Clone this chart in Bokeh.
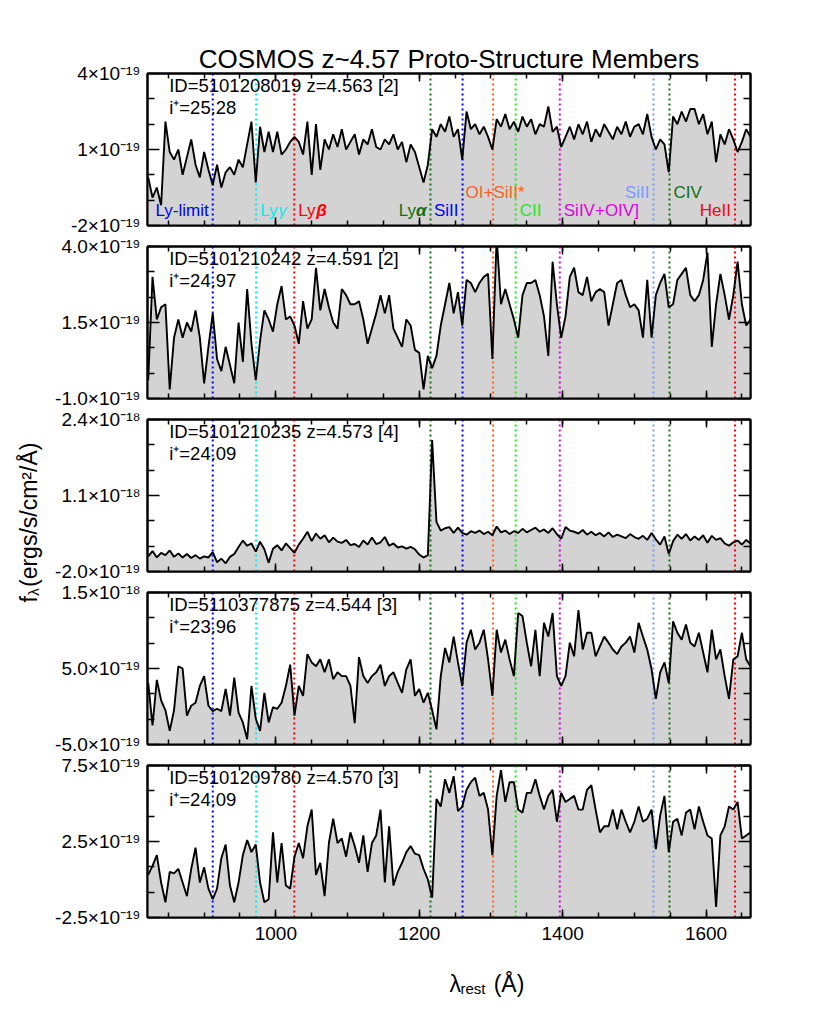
import math
from bokeh.plotting import figure
from bokeh.models import LinearAxis, FixedTicker, Range1d, ColumnDataSource, CustomJSTickFormatter
from bokeh.layouts import row, column
from bokeh.embed import file_html
from bokeh.resources import INLINE
from bokeh.core.properties import value

FONT = "Liberation Sans"

# ---------------- data ----------------
# rest-frame wavelength grid (Angstrom)
wave = [822 + 6 * k for k in range(141)]

# fluxes in units of 1e-19 erg/s/cm^2/A
flux1 = [
    -0.1, -0.9, -0.5, -1.2, 2.1, 0.9, 0.6, 1.0, 0.0, 0.7,
    1.4, 0.4, -0.1, 0.9, 0.2, -0.4, 0.4, -0.5, 0.1, 0.3,
    0.0, 0.6, 0.3, 1.2, 2.1, -0.3, 1.9, 0.9, 1.7, 0.9,
    1.7, 0.8, 1.0, 1.3, 1.5, 1.3, 0.8, 2.1, 0.0, 2.0,
    0.2, 1.4, 1.0, 1.6, 1.1, 1.8, 1.0, 1.3, 1.6, 0.8,
    1.4, 1.2, 1.8, 1.1, 1.0, 1.4, 1.2, 1.6, 1.0, 1.3,
    0.5, 1.2, 0.9, 0.3, -0.3, 0.4, 1.8, 1.5, 2.0, 1.7,
    2.3, 1.5, 1.8, 0.6, 2.5, 1.8, 2.0, 1.6, 1.9, 1.5,
    1.0, 2.2, 1.9, 2.4, 1.8, 2.1, 1.7, 2.3, 1.9, 2.2,
    1.6, 2.0, 1.9, 2.7, 1.7, 1.9, 1.1, 1.5, 1.9, 1.4,
    2.0, 1.6, 2.1, 1.3, 1.8, 1.5, 2.0, 1.7, 1.4, 1.9,
    1.6, 2.1, 1.5, 1.9, 2.0, 1.6, 2.4, 1.5, 1.0, 1.4,
    1.2, 0.1, 2.3, 2.0, 2.5, 2.1, 2.6, 2.6, 2.0, 2.4,
    1.6, 2.1, 0.5, 1.6, 1.2, 1.8, 1.4, 0.9, 1.3, 1.8,
    1.5,
]
flux2 = [
    -0.4, 3.0, 1.6, 2.0, 2.1, -0.7, 1.0, 1.6, 1.0, 1.5,
    1.2, 1.9, 1.0, -0.5, 0.7, 1.8, 0.3, -0.1, 0.7, 0.1,
    -0.5, 1.5, 0.2, 2.6, 0.8, -0.4, 0.9, 1.9, 1.6, 1.2,
    2.1, 2.7, 1.6, 1.7, 1.4, 0.8, 2.2, 1.3, 1.6, 3.3,
    1.9, 2.6, 2.0, 1.5, 1.3, 2.6, 2.4, 2.1, 2.1, 2.2,
    1.6, 0.8, 1.3, 1.8, 2.4, 1.8, 2.4, 1.3, 1.0, 0.7,
    1.6, 1.4, 0.6, 0.5, -0.7, 0.4, 0.0, 0.4, 1.4, 2.1,
    2.8, 1.8, 2.5, 1.4, 2.9, 2.8, 2.5, 2.8, 3.0, 3.1,
    0.3, 4.3, 2.1, 2.6, 2.1, 1.6, 1.0, 2.4, 2.8, 2.8,
    2.9, 2.4, 1.7, 0.4, 3.5, 2.1, 1.0, 1.7, 3.0, 3.3,
    2.5, 2.4, 3.0, 2.2, 2.5, 2.6, 2.5, 1.4, 2.1, 2.8,
    2.9, 2.4, 2.0, 2.1, 1.9, 1.0, 2.9, 1.0, 2.4, 2.8,
    3.1, 2.0, 2.1, 2.9, 3.1, 3.3, 2.4, 2.2, 2.4, 2.9,
    3.8, 0.7, 2.1, 3.1, 2.4, 1.6, 2.4, 3.5, 2.1, 1.4,
    1.6,
]
flux3 = [
    0.6, 1.5, 0.4, 1.2, 0.8, 1.6, 0.5, 1.1, 0.4, 1.0,
    0.3, 0.8, 0.2, 0.6, 0.4, 1.3, -0.4, 0.2, -0.6, 0.5,
    1.0, 2.2, 3.3, 2.4, 2.8, 1.4, 3.1, 1.8, -0.5, 1.9,
    2.5, 1.6, 2.8, 2.0, 1.2, 2.6, 3.6, 4.8, 3.2, 4.5,
    3.6, 4.2, 3.0, 3.8, 3.1, 2.9, 3.4, 2.5, 2.7, 2.2,
    3.3, 2.6, 3.8, 2.7, 3.0, 3.9, 2.4, 2.8, 2.1, 2.3,
    1.9, 2.2, 1.8, 0.9, 0.4, 0.8, 20.5, 6.5, 5.0, 5.4,
    5.6, 4.6, 5.5, 4.6, 4.3, 4.9, 4.6, 5.0, 4.4, 4.8,
    4.2, 5.7, 4.7, 5.0, 4.4, 4.9, 4.6, 5.3, 4.7, 5.1,
    5.5, 4.8, 5.2, 4.6, 5.4, 4.4, 3.6, 5.6, 5.0, 4.8,
    4.5, 5.1, 4.3, 4.8, 4.2, 4.6, 4.0, 4.7, 3.9, 4.3,
    4.0, 3.7, 4.4, 3.9, 3.6, 4.1, 3.4, 4.6, 3.5, 2.6,
    4.0, 1.0, 3.2, 4.3, 3.6, 4.4, 3.3, 4.0, 3.4, 4.2,
    2.9, 4.1, 3.4, 3.7, 2.8, 2.4, 3.0, 3.3, 2.6, 3.4,
    2.8,
]
flux4 = [
    3.1, -2.5, 3.5, 0.8, -0.5, -3.2, -0.5, 5.3, 5.0, -1.2,
    0.1, 0.5, 2.7, 4.0, 0.1, -0.6, -0.3, -0.6, 2.3, -1.2,
    3.8, -0.8, -2.1, -4.3, 2.7, -1.6, -3.2, 1.8, -2.1, -0.1,
    -0.3, 0.5, 2.7, 5.5, -1.2, 2.7, 1.4, 6.9, 5.8, 5.3,
    6.2, 4.5, 6.2, 3.6, 4.5, 4.0, 4.0, 2.7, -2.2, 6.5,
    4.0, 3.1, 4.0, 4.5, 5.5, 2.7, 4.0, 4.5, 3.1, 1.8,
    4.9, 6.2, 1.4, 2.3, 0.5, 1.8, -0.5, -3.0, 4.0, 7.7,
    5.8, 9.2, 5.8, 2.7, 8.4, 10.1, 7.5, 8.4, 10.1, 6.2,
    1.4, 10.1, 7.1, 8.8, 6.2, 4.0, 12.3, 11.9, 8.4, 5.3,
    10.1, 4.0, 11.0, 9.2, 12.3, 4.0, 2.7, 4.0, 8.4, 6.6,
    12.7, 7.5, 9.7, 9.7, 6.6, 7.9, 9.2, 8.4, 7.5, 6.9,
    7.9, 8.4, 9.2, 7.1, 11.0, 9.2, 7.5, 4.9, 1.0, 4.5,
    5.8, 3.1, 11.2, 9.7, 8.8, 10.8, 8.4, 7.9, 9.7, 7.1,
    4.5, 10.1, 6.2, 7.5, 4.0, 1.0, 6.2, 6.6, 9.7, 6.2,
    5.3,
]
flux5 = [
    0.3, 0.9, 1.6, -0.2, -1.5, 0.5, 0.4, 0.7, -0.2, -1.1,
    0.7, 2.1, -0.2, 0.8, -0.6, -1.3, -0.6, 1.4, 2.3, -0.4,
    -1.5, -0.2, 1.6, 2.6, 1.8, 2.3, -0.2, -1.5, -1.3, 3.1,
    -0.2, 2.4, -0.4, -0.6, 1.5, 2.4, 1.4, 3.5, 4.6, 0.3,
    1.1, -1.1, 2.4, 4.0, 2.4, 2.7, 1.5, 3.1, 2.2, 1.1,
    2.9, 0.5, 2.4, 2.9, 4.6, -0.2, 3.5, -0.4, 0.5, 1.1,
    1.8, 2.2, 1.7, 1.6, 0.7, 0.0, -1.2, 5.3, 4.8, 6.6,
    5.7, 6.8, 4.5, 4.8, 5.9, 6.4, 6.7, 5.5, 5.7, 4.6,
    1.6, 5.5, 7.2, 5.1, 6.4, 6.4, 4.6, 4.4, 5.7, 5.7,
    6.6, 5.5, 4.6, 5.5, 5.9, 3.8, 5.7, 5.1, 5.3, 5.5,
    4.6, 4.6, 5.9, 6.2, 4.6, 3.1, 3.5, 3.5, 4.6, 3.3,
    4.6, 3.8, 3.1, 3.8, 4.8, 3.8, 4.0, 4.6, 2.0, 4.2,
    5.5, 1.8, 3.8, 4.0, 2.9, 4.4, 4.6, 3.3, 4.8, 3.8,
    2.9, 2.7, -1.8, 2.9, 3.5, 4.8, 4.6, 5.1, 2.7, 2.9,
    3.1,
]
fluxes = [flux1, flux2, flux3, flux4, flux5]
for f in fluxes:
    assert len(f) == len(wave)

panel_ids = [
    "ID=5101208019 z=4.563 [2]",
    "ID=5101210242 z=4.591 [2]",
    "ID=5101210235 z=4.573 [4]",
    "ID=5110377875 z=4.544 [3]",
    "ID=5101209780 z=4.570 [3]",
]
panel_mags = ["i\u207a=25.28", "i\u207a=24.97", "i\u207a=24.09", "i\u207a=23.96", "i\u207a=24.09"]

y_ticks = [[-2, 1, 4], [-1, 1.5, 4], [-2, 11, 24], [-5, 5, 15], [-2.5, 2.5, 7.5]]
y_tick_labels = [
    ["-2\u00d710\u207b\u00b9\u2079", "1\u00d710\u207b\u00b9\u2079", "4\u00d710\u207b\u00b9\u2079"],
    ["-1.0\u00d710\u207b\u00b9\u2079", "1.5\u00d710\u207b\u00b9\u2079", "4.0\u00d710\u207b\u00b9\u2079"],
    ["-2.0\u00d710\u207b\u00b9\u2079", "1.1\u00d710\u207b\u00b9\u2078", "2.4\u00d710\u207b\u00b9\u2078"],
    ["-5.0\u00d710\u207b\u00b9\u2079", "5.0\u00d710\u207b\u00b9\u2079", "1.5\u00d710\u207b\u00b9\u2078"],
    ["-2.5\u00d710\u207b\u00b9\u2079", "2.5\u00d710\u207b\u00b9\u2079", "7.5\u00d710\u207b\u00b9\u2079"],
]

line_names = ["Ly-limit", "Ly\u03b3", "Ly\u03b2", "Ly\u03b1", "SiII", "OI+SiII*", "CII",
              "SiIV+OIV]", "SiII", "CIV", "HeII"]
line_waves = [912.0, 972.5, 1025.7, 1215.7, 1260.4, 1303.0, 1334.5, 1396.0, 1526.7, 1549.0, 1640.4]
line_colors = ["#0000ff", "#00eeee", "#ff0000", "#107010", "#0000ff", "#ff5f1f", "#22e622",
               "#e000e0", "#7799ff", "#107010", "#ff0000"]

x_major = [1000, 1200, 1400, 1600]
x_minor = list(range(850, 1651, 50))

# ---------------- layout / style ----------------
X_START, X_END = 821.0, 1662.0
FW, FH = 603, 152
ML, MR = 102, 30
TOPS = [73, 11, 11, 11, 11]
BOTS = [10, 10, 10, 10, 40]
DX = (X_END - X_START) / FW  # Angstrom per pixel
LBL = "17px"
# line-label placement: (alignment, row 0=low 1=high)
label_place = [("right", 0), ("left", 0), ("left", 0), ("right", 0), ("right", 0), ("center", 1),
               ("left", 0), ("left", 0), ("right", 1), ("left", 1), ("right", 0)]


def hide_labels(ax):
    ax.major_label_text_color = None
    ax.major_label_text_font_size = "1px"
    ax.major_label_standoff = 0


def make_xaxis(with_labels):
    ax = LinearAxis(ticker=FixedTicker(ticks=x_major, minor_ticks=x_minor),
                    axis_line_color="black", axis_line_width=2,
                    major_tick_in=8, major_tick_out=0, minor_tick_in=5, minor_tick_out=0,
                    major_tick_line_color="black", major_tick_line_width=1.5,
                    minor_tick_line_color="black", minor_tick_line_width=1.5)
    if with_labels:
        ax.major_label_text_font = FONT
        ax.major_label_text_font_size = "19px"
        ax.major_label_text_color = "black"
        ax.major_label_standoff = 9
    else:
        hide_labels(ax)
    return ax


def make_yaxis(i, with_labels):
    t = y_ticks[i]
    step = (t[1] - t[0]) / 3.0
    minors = [t[0] + step, t[0] + 2 * step, t[1] + step, t[1] + 2 * step]
    ax = LinearAxis(ticker=FixedTicker(ticks=t, minor_ticks=minors),
                    axis_line_color="black", axis_line_width=2,
                    major_tick_in=12, major_tick_out=0, minor_tick_in=7, minor_tick_out=0,
                    major_tick_line_color="black", major_tick_line_width=1.5,
                    minor_tick_line_color="black", minor_tick_line_width=1.5)
    if with_labels:
        ax.formatter = CustomJSTickFormatter(args=dict(labels=y_tick_labels[i]),
                                             code="return labels[index];")
        ax.major_label_text_font = FONT
        ax.major_label_text_font_size = "19px"
        ax.major_label_text_color = "black"
        ax.major_label_standoff = 7
    else:
        hide_labels(ax)
    return ax


def txt(p, x, y, s, color="black", size="18.5px", align="left", style="normal", angle=0.0,
        baseline="middle"):
    p.text(x=[x], y=[y], text=[s], text_font=value(FONT), text_font_size=size,
           text_color=color, text_align=align, text_baseline=baseline,
           text_font_style=style, angle=angle)


panels = []
for i in range(5):
    y0, y1 = y_ticks[i][0], y_ticks[i][-1]
    p = figure(frame_width=FW, frame_height=FH,
               x_range=Range1d(X_START, X_END), y_range=Range1d(y0, y1),
               x_axis_location=None, y_axis_location=None,
               output_backend="svg", toolbar_location=None,
               min_border_left=ML, min_border_right=MR,
               min_border_top=TOPS[i], min_border_bottom=BOTS[i],
               outline_line_color="black", outline_line_width=2,
               background_fill_color="white", border_fill_color="white")
    for g in p.grid:
        g.visible = False

    src = ColumnDataSource(dict(x=wave, f=fluxes[i]))
    p.varea(x="x", y1=y0, y2="f", source=src, fill_color="#d3d3d3")

    lsrc = ColumnDataSource(dict(x=line_waves, c=line_colors,
                                 y0=[y0] * len(line_waves), y1=[y1] * len(line_waves)))
    p.segment(x0="x", y0="y0", x1="x", y1="y1", source=lsrc, line_color="c",
              line_dash="2 3", line_width=2)

    p.line(x="x", y="f", source=src, line_color="black", line_width=1.9)

    p.add_layout(make_xaxis(i == 4), "below")
    p.add_layout(make_xaxis(False), "above")
    p.add_layout(make_yaxis(i, True), "left")
    p.add_layout(make_yaxis(i, False), "right")

    sy = (y1 - y0) / FH
    txt(p, X_START + 21.7 * DX, y1 - 11.6 * sy, panel_ids[i])
    txt(p, X_START + 21.7 * DX, y1 - 34.3 * sy, panel_mags[i])

    if i == 0:
        for name, lw, col, (al, rw) in zip(line_names, line_waves, line_colors, label_place):
            ypos = y0 + (15.2 if rw == 0 else 33.0) * sy
            gap = 4 * DX
            if name[-1] in "\u03b1\u03b2\u03b3":
                gst = "italic" if name[-1] == "\u03b3" else "bold italic"
                head_w, g_w = 18 * DX, 10.5 * DX
                if al == "left":
                    txt(p, lw + gap, ypos, "Ly", col, LBL, "left")
                    txt(p, lw + gap + head_w, ypos, name[-1], col, LBL, "left", gst)
                else:
                    txt(p, lw - gap - g_w, ypos, "Ly", col, LBL, "right")
                    txt(p, lw - gap, ypos, name[-1], col, LBL, "right", gst)
            else:
                if al == "left":
                    txt(p, lw + gap, ypos, name, col, LBL, "left")
                elif al == "right":
                    txt(p, lw - gap, ypos, name, col, LBL, "right")
                else:
                    txt(p, lw + 2 * DX, ypos, name, col, LBL, "center")

        p.title.text = "COSMOS z~4.57 Proto-Structure Members"
        p.title.text_font = FONT
        p.title.text_font_size = "26px"
        p.title.text_font_style = "normal"
        p.title.text_color = "black"
        p.title.align = "center"
        p.title.standoff = 0
    panels.append(p)

# y-axis label column
fig_w = ML + FW + MR
heights = [TOPS[i] + FH + BOTS[i] for i in range(5)]
XL_H = 40
H_TOTAL = sum(heights) + XL_H
YL_W = 45

ylab = figure(width=YL_W, height=H_TOTAL, x_range=Range1d(0, YL_W), y_range=Range1d(0, H_TOTAL),
              x_axis_location=None, y_axis_location=None, min_border=0,
              outline_line_color=None, output_backend="svg", toolbar_location=None)
for g in ylab.grid:
    g.visible = False
yb = H_TOTAL - (610 - 8)
txt(ylab, 28, yb, "f", size="23px", angle=math.pi / 2, baseline="alphabetic")
txt(ylab, 33, yb + 6.8, "\u03bb", size="15px", angle=math.pi / 2, baseline="alphabetic")
txt(ylab, 28, yb + 15.5, "(ergs/s/cm\u00b2/\u00c5)", size="23px", angle=math.pi / 2,
    baseline="alphabetic")

# x-axis label strip
xlab = figure(width=fig_w, height=XL_H, x_range=Range1d(0, fig_w), y_range=Range1d(0, XL_H),
              x_axis_location=None, y_axis_location=None, min_border=0,
              outline_line_color=None, output_backend="svg", toolbar_location=None)
for g in xlab.grid:
    g.visible = False
xs = 421 - 8 - YL_W
txt(xlab, xs, 14, "\u03bb", size="23px", baseline="alphabetic")
txt(xlab, xs + 13.5, 9, "rest", size="15px", baseline="alphabetic")
txt(xlab, xs + 54, 14, "(\u00c5)", size="23px", baseline="alphabetic")

layout = row(ylab, column(*panels, xlab))
open("out.html", "w").write(file_html(layout, INLINE))
